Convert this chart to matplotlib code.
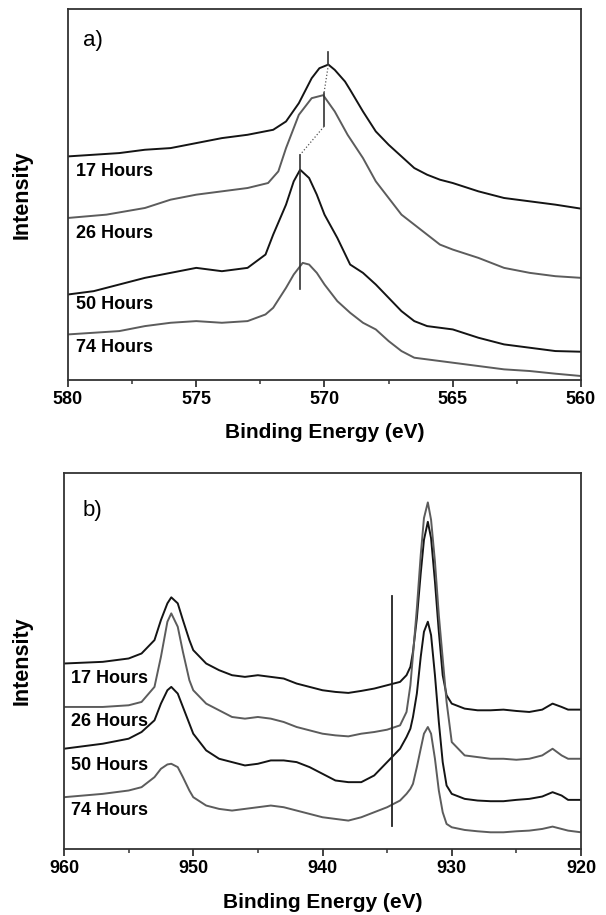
import matplotlib
matplotlib.use("Agg")
import matplotlib.pyplot as plt
from matplotlib.ticker import MultipleLocator

plt.rcParams['font.family'] = ['Liberation Sans', 'DejaVu Sans']

# ---------------- Panel a data (Binding energy eV, intensity a.u.) ----------------
a_17_x = [580.0, 579.0, 578.0, 577.0, 576.0, 575.0, 574.0, 573.0, 572.0, 571.5, 571.0, 570.5, 570.2, 569.85,
          569.6, 569.2, 569.0, 568.5, 568.0, 567.5, 567.0, 566.5, 566.0, 565.5, 565.0, 564.0, 563.0, 562.0, 561.0, 560.0]
a_17_y = [672, 677, 682, 692, 697, 712, 727, 737, 752, 777, 832, 907, 937, 948,
          932, 897, 872, 807, 747, 707, 672, 637, 617, 602, 592, 567, 547, 537, 527, 515]

a_26_x = [580.0, 578.5, 577.0, 576.0, 575.0, 574.0, 573.0, 572.2, 571.8, 571.5, 571.0, 570.5, 570.05, 569.6,
          569.1, 568.5, 568.0, 567.5, 567.0, 566.0, 565.5, 565.0, 564.0, 563.0, 562.0, 561.0, 560.0]
a_26_y = [487, 497, 517, 542, 557, 567, 577, 592, 627, 697, 797, 847, 856, 807,
          737, 667, 597, 547, 497, 437, 407, 392, 367, 337, 322, 312, 307]

a_50_x = [580.0, 579.0, 578.0, 577.0, 576.0, 575.0, 574.0, 573.0, 572.3, 572.0, 571.5, 571.2, 570.95, 570.6,
          570.3, 570.0, 569.5, 569.0, 568.5, 568.0, 567.5, 567.0, 566.5, 566.0, 565.0, 564.0, 563.0, 562.0, 561.0, 560.0]
a_50_y = [257, 267, 287, 307, 322, 337, 327, 337, 377, 437, 527, 597, 632, 607,
          557, 497, 427, 347, 322, 287, 247, 207, 177, 162, 152, 127, 107, 97, 87, 85]

a_74_x = [580.0, 579.0, 578.0, 577.0, 576.0, 575.0, 574.0, 573.0, 572.3, 572.0, 571.5, 571.2, 570.85, 570.6,
          570.3, 570.0, 569.5, 569.0, 568.5, 568.0, 567.5, 567.0, 566.5, 566.0, 565.0, 564.0, 563.0, 562.0, 561.0, 560.0]
a_74_y = [137, 142, 147, 162, 172, 177, 172, 177, 197, 217, 277, 317, 352, 347,
          322, 287, 237, 202, 172, 152, 117, 87, 67, 62, 52, 42, 32, 27, 19, 12]

# peak-position guide lines in panel a
a_guide_solid = [(569.85, 947, 987), (570.02, 762, 862), (570.96, 273, 676)]
a_guide_dotted = [((569.85, 947), (570.02, 862)), ((570.02, 762), (570.96, 676))]

# ---------------- Panel b data ----------------
b_x = [960, 957, 955, 954, 953, 952.5, 952, 951.7, 951.2, 950.8, 950.3, 950, 949, 948, 947, 946, 945, 944,
       943, 942, 941, 940, 939, 938, 937, 936, 935, 934, 933.5, 933.2, 933.0, 932.7, 932.4, 932.15,
       931.85, 931.6, 931.3, 931.0, 930.7, 930.4, 930.0, 929, 928, 927, 926, 925, 924, 923, 922.2, 921.5, 921, 920]
b_17_y = [555, 560, 570, 585, 625, 685, 735, 753, 735, 685, 625, 595, 555, 535, 520, 515, 520, 515,
          510, 495, 485, 475, 470, 467, 473, 480, 490, 500, 520, 545, 590, 690, 825, 925,
          979, 930, 800, 650, 520, 460, 435, 420, 415, 415, 417, 413, 410, 417, 435, 425, 417, 417]
b_26_y = [425, 425, 430, 440, 485, 575, 680, 705, 665, 590, 505, 475, 435, 415, 395, 390, 395, 390,
          380, 365, 355, 345, 340, 337, 345, 350, 357, 370, 410, 490, 580, 720, 880, 990,
          1037, 985, 860, 700, 570, 440, 320, 280, 275, 270, 270, 267, 270, 280, 300, 280, 270, 270]
b_50_y = [300, 315, 330, 350, 385, 435, 475, 485, 465, 425, 375, 345, 295, 270, 260, 250, 255, 265,
          265, 260, 245, 225, 205, 200, 200, 220, 260, 300, 335, 360, 395, 465, 575, 650,
          680, 640, 520, 380, 260, 190, 165, 150, 145, 143, 143, 147, 150, 157, 170, 160, 147, 147]
b_74_y = [155, 165, 175, 185, 215, 240, 253, 255, 245, 215, 175, 155, 130, 120, 115, 120, 125, 130,
          125, 115, 105, 95, 90, 85, 95, 110, 125, 145, 165, 180, 195, 245, 300, 345,
          365, 345, 270, 175, 110, 75, 65, 57, 53, 50, 50, 53, 55, 60, 67, 60, 55, 50]

b_guide_solid = [(934.65, 70, 757)]

series_labels = ['17 Hours', '26 Hours', '50 Hours', '74 Hours']
a_label_y = [0.562, 0.396, 0.204, 0.087]
b_label_y = [0.453, 0.338, 0.222, 0.102]

a_ticks = [580, 575, 570, 565, 560]
b_ticks = [960, 950, 940, 930, 920]

BLACK = '#141414'
GRAY = '#5c5c5c'
colors = [BLACK, GRAY, BLACK, GRAY]

fig = plt.figure(figsize=(6.06, 9.15), dpi=100)
axA = fig.add_axes([68/606, 1-380/915, 513/606, 371/915])
axB = fig.add_axes([64/606, 1-849/915, 517/606, 376/915])

def style(ax, xlim, ymax, ticks, major, minor, ylab_x):
    ax.set_xlim(*xlim)
    ax.set_ylim(0, ymax)
    ax.set_yticks([])
    ax.set_xticks(ticks)
    ax.set_xticklabels([str(t) for t in ticks])
    ax.xaxis.set_minor_locator(MultipleLocator(minor))
    for s in ax.spines.values():
        s.set_color('#333333')
        s.set_linewidth(1.3)
    ax.tick_params(axis='x', which='major', direction='out', length=5, width=1.3,
                   color='#333333', pad=3, labelsize=13)
    ax.tick_params(axis='x', which='minor', direction='out', length=3, width=1.1, color='#333333')
    for lab in ax.get_xticklabels():
        lab.set_fontweight('bold')
    ax.set_xlabel('Binding Energy (eV)', fontsize=15, fontweight='bold', va='center')
    ax.xaxis.set_label_coords(0.5, -53/(ax.get_position().height*915))
    ax.set_ylabel('Intensity', fontsize=15.5, fontweight='bold')
    ax.yaxis.set_label_coords(ylab_x, 0.5)

style(axA, (580, 560), 1115, a_ticks, 5, 2.5, -0.068)
style(axB, (960, 920), 1125, b_ticks, 10, 5, -0.060)

for xs, ys, c in zip([a_17_x, a_26_x, a_50_x, a_74_x], [a_17_y, a_26_y, a_50_y, a_74_y], colors):
    axA.plot(xs, ys, color=c, lw=1.4)
for ys, c in zip([b_17_y, b_26_y, b_50_y, b_74_y], colors):
    axB.plot(b_x, ys, color=c, lw=1.4)

for x, y0, y1 in a_guide_solid:
    axA.plot([x, x], [y0, y1], color='#333333', lw=1.2)
for (x0, y0), (x1, y1) in a_guide_dotted:
    axA.plot([x0, x1], [y0, y1], color='#555555', lw=0.9, ls=':')
for x, y0, y1 in b_guide_solid:
    axB.plot([x, x], [y0, y1], color='#222222', lw=1.3)

for lab, y in zip(series_labels, a_label_y):
    axA.text(0.016, y, lab, transform=axA.transAxes, fontsize=13, fontweight='bold', va='center', ha='left')
for lab, y in zip(series_labels, b_label_y):
    axB.text(0.014, y, lab, transform=axB.transAxes, fontsize=13, fontweight='bold', va='center', ha='left')

axA.text(0.029, 0.916, 'a)', transform=axA.transAxes, fontsize=16, va='center', ha='left')
axB.text(0.035, 0.899, 'b)', transform=axB.transAxes, fontsize=16, va='center', ha='left')

fig.savefig('out.png', dpi=100)
